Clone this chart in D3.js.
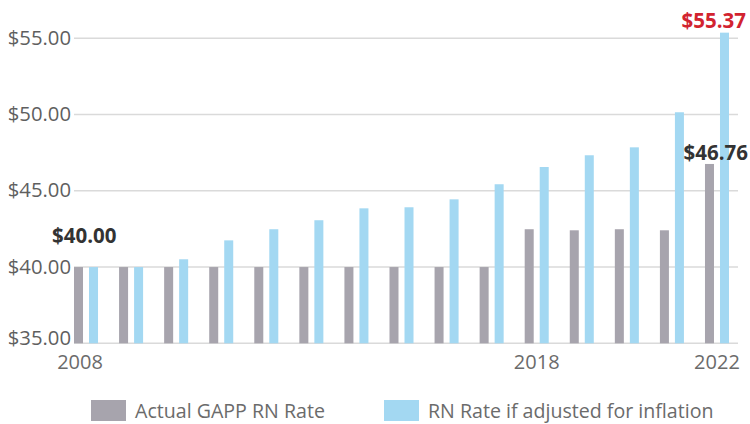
<!DOCTYPE html>
<html lang="en">
<head>
<meta charset="UTF-8">
<title>GAPP RN Rate</title>
<script src="https://d3js.org/d3.v7.min.js"></script>
<style>
  body { margin: 0; background: #fff; }
  svg { display: block; }
  text { font-family: "Open Sans", sans-serif; }
  .tick-label { font-size: 20.3px; fill: #5f5f5f; }
  .year-label { font-size: 20px; fill: #6b6b6b; }
  .legend-label { font-size: 19.6px; fill: #6b6b6b; }
  .value-label { font-size: 20.5px; font-weight: bold; }
</style>
</head>
<body>
<script>
// data
const years = d3.range(2008, 2023);
const actualRate = [40.00, 40.00, 40.00, 40.00, 40.00, 40.00, 40.00, 40.00, 40.00, 40.00,
                    42.48, 42.41, 42.48, 42.41, 46.76];
const inflationRate = [40.00, 40.00, 40.51, 41.75, 42.48, 43.07, 43.85, 43.92, 44.44, 45.43,
                       46.56, 47.33, 47.85, 50.15, 55.37];
const yTicks = [35, 40, 45, 50, 55];
const yearTicks = [2008, 2018, 2022];
const seriesNames = ["Actual GAPP RN Rate", "RN Rate if adjusted for inflation"];
const seriesColors = ["#a7a4ad", "#a3d8f2"];

const width = 750, height = 424;
const svg = d3.select("body").append("svg")
  .attr("width", width)
  .attr("height", height);

// 15 groups, step ~45px, each group ~24px wide
const x = d3.scaleBand()
  .domain(years)
  .range([74, 729])
  .paddingInner(0.467)
  .paddingOuter(0)
  .align(0);

const xSub = d3.scaleBand()
  .domain([0, 1])
  .range([0, x.bandwidth()])
  .paddingInner(0.4);

const y = d3.scaleLinear()
  .domain([35, 55])
  .range([343.3, 38.3]);

// grid
svg.append("g")
  .selectAll("line")
  .data(yTicks)
  .join("line")
  .attr("x1", 74)
  .attr("x2", 738)
  .attr("y1", d => y(d))
  .attr("y2", d => y(d))
  .attr("stroke", "#dadada")
  .attr("stroke-width", 1.5);

// bottom label sits a bit higher so it clears the year labels
svg.append("g")
  .selectAll("text")
  .data(yTicks)
  .join("text")
  .attr("class", "tick-label")
  .attr("x", 71)
  .attr("y", d => y(d) + (d === 35 ? 2 : 6.5))
  .attr("text-anchor", "end")
  .text(d => "$" + d.toFixed(2));

// bars
const groups = svg.append("g")
  .selectAll("g")
  .data(years.map((yr, i) => ({ yr, vals: [actualRate[i], inflationRate[i]] })))
  .join("g")
  .attr("transform", d => `translate(${x(d.yr)},0)`);

groups.selectAll("rect")
  .data(d => d.vals)
  .join("rect")
  .attr("x", (d, i) => xSub(i))
  .attr("width", xSub.bandwidth())
  .attr("y", d => y(d))
  .attr("height", d => y(35) - y(d))
  .attr("fill", (d, i) => seriesColors[i]);

// year labels
svg.append("g")
  .selectAll("text")
  .data(yearTicks)
  .join("text")
  .attr("class", "year-label")
  .attr("x", d => x(d) + x.bandwidth() / 2 - (d === 2008 ? 6 : 0))
  .attr("y", 369)
  .attr("text-anchor", "middle")
  .text(d => d);

// value annotations
const first = years[0], last = years[years.length - 1];
svg.append("text")
  .attr("class", "value-label")
  .attr("x", x(first) - 22)
  .attr("y", y(actualRate[0]) - 24)
  .attr("fill", "#333333")
  .text("$" + actualRate[0].toFixed(2));

svg.append("text")
  .attr("class", "value-label")
  .attr("x", 748)
  .attr("y", y(actualRate[actualRate.length - 1]) - 4)
  .attr("text-anchor", "end")
  .attr("fill", "#333333")
  .text("$" + actualRate[actualRate.length - 1].toFixed(2));

svg.append("text")
  .attr("class", "value-label")
  .attr("x", 746)
  .attr("y", y(inflationRate[inflationRate.length - 1]) - 5)
  .attr("text-anchor", "end")
  .attr("fill", "#d2232f")
  .text("$" + inflationRate[inflationRate.length - 1].toFixed(2));

// legend
const legendX = [91, 384];
const legend = svg.append("g")
  .selectAll("g")
  .data(seriesNames)
  .join("g")
  .attr("transform", (d, i) => `translate(${legendX[i]},400)`);

legend.append("rect")
  .attr("width", 35)
  .attr("height", 21)
  .attr("fill", (d, i) => seriesColors[i]);

legend.append("text")
  .attr("class", "legend-label")
  .attr("x", 44)
  .attr("y", 18)
  .text(d => d);
</script>
</body>
</html>
